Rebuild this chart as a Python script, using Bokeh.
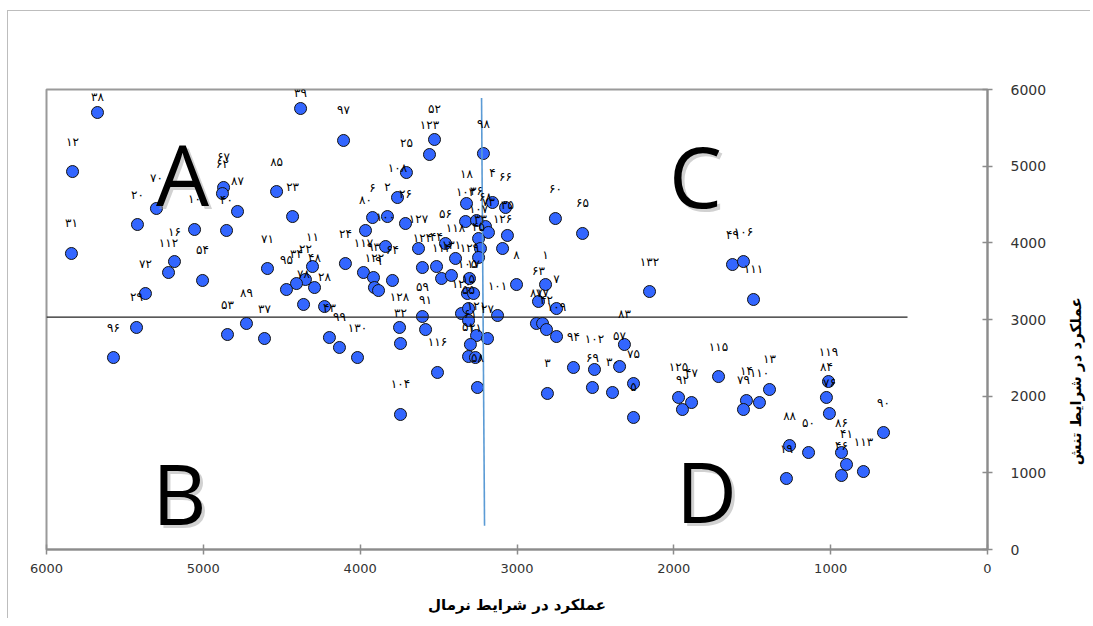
import math
from bokeh.plotting import figure
from bokeh.layouts import row
from bokeh.models import ColumnDataSource, Range1d, Label, LabelSet, FixedTicker
from bokeh.core.properties import value
from bokeh.embed import file_html
from bokeh.resources import INLINE

# ---------------- data ----------------
genotype = [38, 12, 70, 20, 31, 10, 67, 62, 87, 40, 85, 23, 16, 112, 54, 72, 29, 96, 53, 89,
            37, 71, 11, 48, 22, 34, 95, 78, 28, 43, 99, 130, 97, 39, 24, 80, 6, 2, 26, 25,
            108, 52, 123, 98, 117, 93, 122, 9, 64, 100, 127, 124, 44, 114, 131, 56, 118, 18, 103, 36,
            68, 73, 107, 33, 45, 4, 66, 35, 126, 129, 105, 17, 8, 1, 60, 65, 63, 7, 81, 77,
            42, 109, 120, 15, 55, 101, 59, 128, 91, 32, 121, 27, 61, 51, 21, 116, 58, 104, 132, 49,
            106, 111, 83, 94, 102, 57, 69, 30, 3, 75, 5, 125, 47, 92, 115, 14, 79, 110, 13, 119,
            84, 76, 90, 88, 50, 86, 41, 46, 113, 19]

yield_normal = [5675, 5834, 5299, 5420, 5841, 5056, 4871, 4878, 4782, 4852, 4533, 4431, 5184, 5222, 5005, 5369, 5426, 5573, 4846, 4725,
                4610, 4591, 4304, 4291, 4349, 4406, 4470, 4361, 4227, 4196, 4132, 4017, 4106, 4380, 4094, 3966, 3921, 3826, 3711, 3705,
                3762, 3526, 3558, 3214, 3979, 3915, 3909, 3883, 3794, 3838, 3628, 3603, 3513, 3481, 3418, 3456, 3392, 3322, 3328, 3258,
                3201, 3182, 3245, 3233, 3245, 3156, 3073, 3061, 3092, 3303, 3316, 3277, 3003, 2818, 2755, 2582, 2863, 2748, 2876, 2837,
                2812, 2748, 3354, 3309, 3309, 3124, 3603, 3749, 3583, 3743, 3258, 3188, 3297, 3309, 3265, 3507, 3252, 3743, 2155, 1626,
                1556, 1492, 2315, 2640, 2506, 2346, 2519, 2391, 2806, 2257, 2257, 1970, 1887, 1945, 1715, 1537, 1556, 1454, 1390, 1014,
                1027, 1008, 663, 1262, 1141, 931, 899, 931, 791, 1282]

yield_stress = [5700, 4930, 4448, 4239, 3861, 4174, 4722, 4643, 4409, 4161, 4669, 4343, 3756, 3613, 3509, 3339, 2896, 2504, 2804, 2948,
                2752, 3665, 3691, 3417, 3522, 3469, 3391, 3196, 3169, 2765, 2635, 2504, 5335, 5752, 3730, 4161, 4330, 4343, 4252, 4917,
                4591, 5348, 5152, 5165, 3613, 3548, 3417, 3378, 3509, 3952, 3926, 3678, 3691, 3535, 3574, 3991, 3796, 4513, 4278, 4291,
                4213, 4135, 4056, 3926, 3809, 4526, 4461, 4096, 3926, 3535, 3339, 3339, 3456, 3456, 4317, 4122, 3235, 3143, 2948, 2948,
                2869, 2778, 3078, 3143, 2987, 3052, 3039, 2896, 2869, 2687, 2791, 2752, 2674, 2517, 2504, 2309, 2113, 1761, 3365, 3717,
                3756, 3261, 2674, 2374, 2348, 2387, 2113, 2048, 2035, 2165, 1722, 1983, 1917, 1826, 2256, 1943, 1826, 1917, 2087, 2191,
                1983, 1774, 1526, 1356, 1265, 1265, 1109, 965, 1017, 926]

x_ticks = [0, 1000, 2000, 3000, 4000, 5000, 6000]
y_ticks = [0, 1000, 2000, 3000, 4000, 5000, 6000]

# reference lines (means) as drawn in the source
mean_normal_x = [3226, 3207]
mean_normal_y = [5890, 310]
mean_stress_x = [6000, 510]
mean_stress_y = [3030, 3030]

quadrant_letters = ["A", "B", "C", "D"]
x_title = "عملکرد در شرایط نرمال"
y_title = "عملکرد در شرایط تنش"

# ---------------- build ----------------
FA = str.maketrans("0123456789", "۰۱۲۳۴۵۶۷۸۹")
labels = [str(g).translate(FA) for g in genotype]
label_dy = [16 if s > 5500 else 30 for s in yield_stress]

src = ColumnDataSource(dict(x=yield_normal, y=yield_stress, lbl=labels, dy=label_dy))

H = 618
p = figure(width=1058, height=H, x_range=Range1d(6000, 0), y_range=Range1d(0, 6000),
           output_backend="svg", toolbar_location=None, y_axis_location="right",
           min_border_left=46, min_border_top=89, min_border_right=71, min_border_bottom=69,
           background_fill_color="white", border_fill_color=None)
p.styles = {
    "background-color": "white",
    "background-image": "linear-gradient(#bdbdbd, #bdbdbd), linear-gradient(#bdbdbd, #bdbdbd)",
    "background-size": "1px 100%, 100% 1px",
    "background-position": "7px 10px, 7px 10px",
    "background-repeat": "no-repeat",
}

p.xgrid.visible = False
p.ygrid.visible = False
p.outline_line_color = "#9a9a9a"
p.outline_line_width = 2

for ax, ticks in ((p.xaxis[0], x_ticks), (p.yaxis[0], y_ticks)):
    ax.ticker = FixedTicker(ticks=ticks)
    ax.axis_line_color = "#8c8c8c"
    ax.axis_line_width = 2
    ax.major_tick_line_color = "#8c8c8c"
    ax.major_tick_line_width = 1.5
    ax.major_tick_in = 5
    ax.major_tick_out = 5
    ax.minor_tick_line_color = None
    ax.major_label_text_font = "DejaVu Sans"
    ax.major_label_text_color = "#333333"

p.xaxis.major_label_text_font_size = "13px"
p.yaxis.major_label_text_font_size = "14px"
p.xaxis.major_label_standoff = 9
p.yaxis.major_label_standoff = 18
p.xaxis.axis_label = x_title
p.xaxis.axis_label_standoff = 20
p.xaxis.axis_label_text_font = "DejaVu Sans"
p.xaxis.axis_label_text_font_style = "bold"
p.xaxis.axis_label_text_font_size = "15px"
p.xaxis.axis_label_text_color = "black"

p.scatter("x", "y", source=src, size=12, fill_color="#3366ff", line_color="#111111", line_width=1)

p.line(mean_stress_x, mean_stress_y, line_color="#222222", line_width=1.3)
p.line(mean_normal_x, mean_normal_y, line_color="#5b9bd5", line_width=1.6)

p.add_layout(LabelSet(x="x", y="y", text="lbl", y_offset="dy", source=src,
                      text_align="center", text_baseline="middle",
                      text_font=value("DejaVu Sans"), text_font_size=value("12px"),
                      text_color="black"))

# quadrant letters with a soft shadow
letter_pos = [(5133, 4904), (5152, 743), (1862, 4878), (1792, 770)]
for letter, (lx, ly) in zip(quadrant_letters, letter_pos):
    p.add_layout(Label(x=lx, y=ly, text=letter, x_offset=3, y_offset=-3,
                       text_align="center", text_baseline="alphabetic",
                       text_font="Open Sans", text_font_size="84px",
                       text_color="#9a9a9a", text_alpha=0.45))
    p.add_layout(Label(x=lx, y=ly, text=letter,
                       text_align="center", text_baseline="alphabetic",
                       text_font="Open Sans", text_font_size="84px", text_color="black"))

# narrow strip on the right carrying the rotated (bottom-to-top) y-axis title
W2 = 32
p2 = figure(width=W2, height=H, x_range=Range1d(0, W2), y_range=Range1d(H, 0),
            output_backend="svg", toolbar_location=None,
            x_axis_location=None, y_axis_location=None, min_border=0,
            outline_line_color=None, background_fill_color=None, border_fill_color=None)
p2.grid.visible = False
p2.styles = {
    "background-color": "white",
    "background-image": "linear-gradient(#bdbdbd, #bdbdbd)",
    "background-size": "100% 1px",
    "background-position": "0 10px",
    "background-repeat": "no-repeat",
}
p2.text(x=[17], y=[392], text=[y_title], angle=math.pi / 2,
        text_align="center", text_baseline="middle",
        text_font=value("DejaVu Sans"), text_font_style="bold",
        text_font_size="15px", text_color="black")

layout = row(p, p2)
open("out.html", "w").write(file_html(layout, INLINE))
